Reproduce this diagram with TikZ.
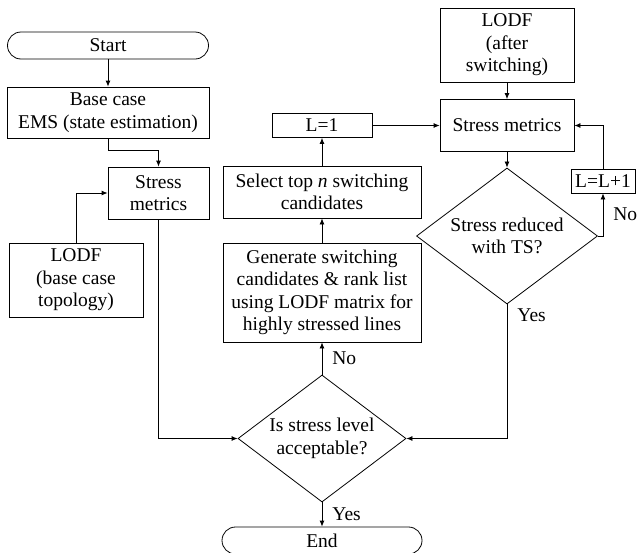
\documentclass[tikz,border=0pt]{standalone}
\usepackage{fontspec}
\setmainfont{Liberation Serif}
\usetikzlibrary{shapes.geometric,arrows.meta}

\begin{document}
\begin{tikzpicture}[x=1pt,y=-1pt,line width=0.8pt,
		font=\fontsize{19.5}{22.5}\selectfont,
		box/.style={draw, rectangle, align=center, inner sep=0pt},
		term/.style={draw, rectangle, rounded corners=13.5pt, minimum width=201pt, minimum height=27pt, inner sep=0pt},
		dec/.style={draw, diamond, align=center, inner sep=0pt},
		arr/.style={-{Latex[length=6pt,width=5pt]}},
		lbl/.style={right, inner sep=0pt, xshift=10pt}]
	\useasboundingbox (0,0) rectangle (637,552);
	% left column
	\node[term] (start) at (108,45.5) {Start};
	\node[box, minimum width=202pt, minimum height=51pt] (base) at (108,112.5) {Base case\\EMS (state estimation)};
	\node[box, minimum width=101pt, minimum height=52pt] (sm1) at (158.5,193) {Stress\\metrics};
	\node[box, minimum width=134pt, minimum height=74pt] (lodf1) at (76,280) {LODF\\(base case\\topology)};
	% middle column
	\node[box, minimum width=100pt, minimum height=24pt] (l1) at (322,125.5) {L=1};
	\node[box, minimum width=198pt, minimum height=52pt] (sel) at (322,192) {Select top \textit{n} switching\\candidates};
	\node[box, minimum width=198pt, minimum height=99pt] (gen) at (322,292.5) {Generate switching\\candidates \& rank list\\using LODF matrix for\\highly stressed lines};
	\node[dec, minimum width=168pt, minimum height=127pt, aspect=1.32] (acc) at (322,438.5) {Is stress level\\acceptable?};
	\node[term, minimum width=200pt] (end) at (322,540.5) {End};
	% right column
	\node[box, minimum width=134pt, minimum height=74pt] (lodf2) at (507,45) {LODF\\(after\\switching)};
	\node[box, minimum width=134pt, minimum height=52pt] (sm2) at (507,125.5) {Stress metrics};
	\node[dec, minimum width=181pt, minimum height=136pt, aspect=1.33] (red) at (507,236) {Stress reduced\\with TS?};
	\node[box, minimum width=64pt, minimum height=24pt] (inc) at (603,181) {L=L+1};

	\draw[arr] (start) -- (base);
	\draw[arr] (base.south) -- ++(0,12) -| (sm1.north);
	\draw[arr] (lodf1.north) |- (sm1.west);
	\draw[arr] (sm1.south) |- (acc.west);
	\draw[arr] (acc.north) -- node[lbl]{No} (gen.south);
	\draw[arr] (gen) -- (sel);
	\draw[arr] (sel) -- (l1);
	\draw[arr] (l1) -- (sm2);
	\draw[arr] (lodf2) -- (sm2);
	\draw[arr] (sm2) -- (red);
	\draw[arr] (red.east) -| node[pos=0.75,lbl]{No} (inc.south);
	\draw[arr] (inc.north) |- (sm2.east);
	\draw[arr] (red.south) |- node[pos=0.04,lbl]{Yes} (acc.east);
	\draw[arr] (acc.south) -- node[lbl]{Yes} (end.north);
\end{tikzpicture}
\end{document}
